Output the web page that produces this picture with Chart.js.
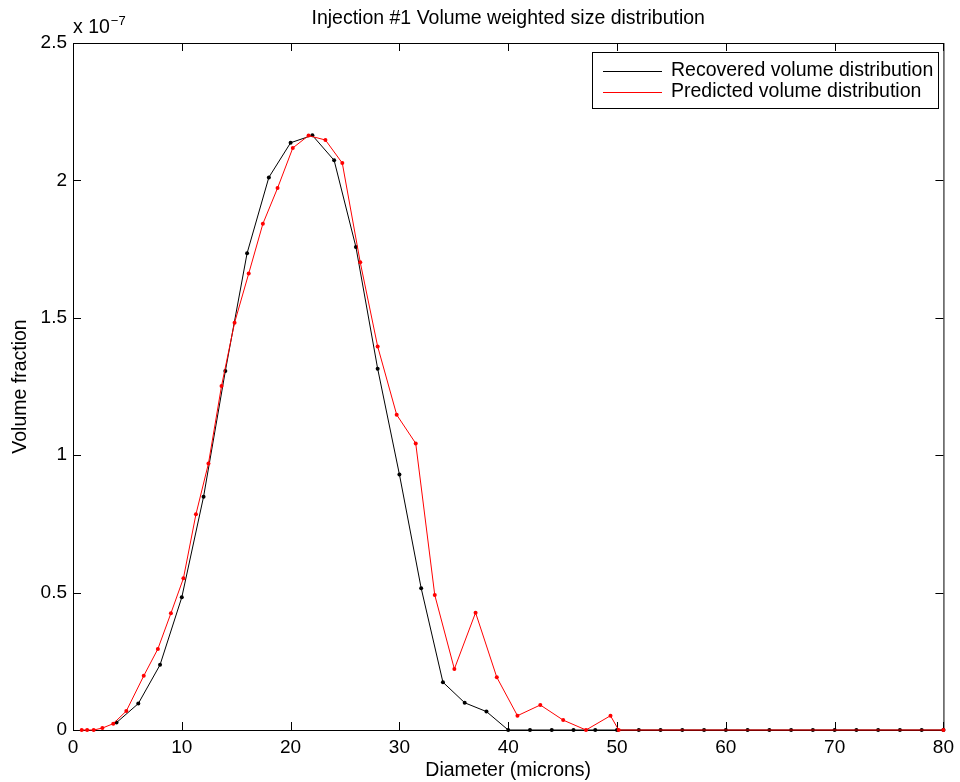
<!DOCTYPE html>
<html>
<head>
<meta charset="utf-8">
<script src="https://cdn.jsdelivr.net/npm/chart.js@4/dist/chart.umd.min.js"></script>
<style>
    html, body { margin: 0; padding: 0; background: #fff; }
    #wrap { width: 960px; height: 782px; position: relative; }
</style>
</head>
<body>
<div id="wrap"><canvas id="sizeChart"></canvas></div>
<script>
// values are in units of 1e-7 (the axis shows "x 10^-7")
const recoveredX = [4, 6, 8, 10, 12, 14, 16, 18, 20, 22, 24, 26, 28, 30, 32, 34, 36, 38, 40,
    42, 44, 46, 48, 50, 52, 54, 56, 58, 60, 62, 64, 66, 68, 70, 72, 74, 76, 78, 80];
const recoveredY = [0.027, 0.096, 0.237, 0.483, 0.849, 1.306, 1.735, 2.011, 2.137, 2.164, 2.073, 1.758, 1.315, 0.930, 0.516, 0.174, 0.099, 0.067, 0,
    0, 0, 0, 0, 0, 0, 0, 0, 0, 0, 0, 0, 0, 0, 0, 0, 0, 0, 0, 0];

const predictedX = [0.8, 1.3, 1.9, 2.7, 3.7, 4.9, 6.5, 7.8, 9.0, 10.15, 11.3, 12.45, 13.65, 14.85, 16.15, 17.45, 18.8, 20.2,
    21.65, 23.2, 24.75, 26.4, 28.0, 29.75, 31.5, 33.25, 35.05, 37.0, 38.95, 40.85, 42.95, 45.05, 47.15, 49.4, 50.15, 80];
const predictedY = [0, 0, 0, 0.007, 0.023, 0.069, 0.197, 0.295, 0.425, 0.552, 0.785, 0.970, 1.252, 1.482, 1.661, 1.842, 1.972, 2.118,
    2.163, 2.147, 2.063, 1.702, 1.396, 1.147, 1.043, 0.491, 0.222, 0.427, 0.192, 0.052, 0.091, 0.036, 0, 0.052, 0, 0];

const xTicks = [0, 10, 20, 30, 40, 50, 60, 70, 80];
const yTicks = [0, 0.5, 1, 1.5, 2, 2.5];

const seriesNames = ['Recovered volume distribution', 'Predicted volume distribution'];
const chartTitle = 'Injection #1 Volume weighted size distribution';
const xTitle = 'Diameter (microns)';
const yTitle = 'Volume fraction';

const FONT = '"Liberation Sans", Arial, Helvetica, sans-serif';

function toPoints(xs, ys) {
    return xs.map(function(x, i) { return { x: x, y: ys[i] }; });
}

// frame box + inward ticks, like matlab axes
const framePlugin = {
    id: 'frame',
    beforeDatasetsDraw: function(chart) {
        const ctx = chart.ctx;
        const a = chart.chartArea;
        const xs = chart.scales.x;
        const ys = chart.scales.y;
        const tl = 8;
        ctx.save();
        ctx.strokeStyle = '#000';
        ctx.lineWidth = 1;
        ctx.strokeRect(a.left + 0.5, a.top + 0.5, a.right - a.left, a.bottom - a.top);
        ctx.beginPath();
        xTicks.forEach(function(v) {
            const px = Math.round(xs.getPixelForValue(v)) + 0.5;
            ctx.moveTo(px, a.bottom);
            ctx.lineTo(px, a.bottom - tl);
            ctx.moveTo(px, a.top);
            ctx.lineTo(px, a.top + tl);
        });
        yTicks.forEach(function(v) {
            const py = Math.round(ys.getPixelForValue(v)) + 0.5;
            ctx.moveTo(a.left, py);
            ctx.lineTo(a.left + tl, py);
            ctx.moveTo(a.right, py);
            ctx.lineTo(a.right - tl, py);
        });
        ctx.stroke();
        ctx.restore();
    },
    afterDraw: function(chart) {
        const ctx = chart.ctx;
        const a = chart.chartArea;
        const cx = (a.left + a.right) / 2;
        const cy = (a.top + a.bottom) / 2;
        ctx.save();
        ctx.fillStyle = '#000';
        ctx.textAlign = 'center';
        ctx.textBaseline = 'middle';
        ctx.font = '19.5px ' + FONT;
        ctx.fillText(chartTitle, cx, 19);
        ctx.fillText(xTitle, cx, 771);
        ctx.save();
        ctx.translate(21, cy);
        ctx.rotate(-Math.PI / 2);
        ctx.fillText(yTitle, 0, 0);
        ctx.restore();

        // exponent label
        ctx.textAlign = 'left';
        ctx.textBaseline = 'alphabetic';
        ctx.font = '19.5px ' + FONT;
        ctx.fillText('x 10', a.left, 33);
        const w = ctx.measureText('x 10').width;
        ctx.font = '13px ' + FONT;
        ctx.fillText('\u22127', a.left + w + 1, 25);

        // legend
        const lx = 592, ly = 52, lw = 346, lh = 56;
        ctx.fillStyle = '#fff';
        ctx.fillRect(lx, ly, lw, lh);
        ctx.strokeStyle = '#000';
        ctx.lineWidth = 1;
        ctx.strokeRect(lx + 0.5, ly + 0.5, lw, lh);
        const colors = ['#000', '#ff0000'];
        const rowsY = [71, 92];
        ctx.font = '19.5px ' + FONT;
        ctx.textBaseline = 'middle';
        seriesNames.forEach(function(name, i) {
            ctx.strokeStyle = colors[i];
            ctx.beginPath();
            ctx.moveTo(603, rowsY[i] + 0.5);
            ctx.lineTo(662, rowsY[i] + 0.5);
            ctx.stroke();
            ctx.fillStyle = '#000';
            ctx.fillText(name, 671, rowsY[i]);
        });
        ctx.restore();
    }
};

new Chart(document.getElementById('sizeChart').getContext('2d'), {
    type: 'line',
    data: {
        datasets: [{
            label: seriesNames[0],
            data: toPoints(recoveredX, recoveredY),
            borderColor: '#000',
            backgroundColor: '#000',
            borderWidth: 1,
            pointRadius: 2,
            pointBorderWidth: 0,
            tension: 0,
            fill: false,
            order: 1
        }, {
            label: seriesNames[1],
            data: toPoints(predictedX, predictedY),
            borderColor: '#ff0000',
            backgroundColor: '#ff0000',
            borderWidth: 1,
            pointRadius: 2,
            pointBorderWidth: 0,
            tension: 0,
            fill: false,
            order: 0
        }]
    },
    options: {
        responsive: true,
        maintainAspectRatio: false,
        animation: false,
        clip: false,
        layout: { padding: { top: 43, right: 16, left: 0, bottom: 0 } },
        plugins: {
            legend: { display: false },
            tooltip: { enabled: false },
            title: { display: false }
        },
        scales: {
            x: {
                type: 'linear',
                min: 0,
                max: 80,
                afterFit: function(scale) { scale.height = 52; },
                afterBuildTicks: function(scale) {
                    scale.ticks = xTicks.map(function(v) { return { value: v }; });
                },
                grid: { display: false, drawTicks: false },
                border: { display: false },
                ticks: {
                    color: '#000',
                    padding: 6,
                    maxRotation: 0,
                    font: { family: FONT, size: 19 },
                    callback: function(v) { return String(v); }
                }
            },
            y: {
                type: 'linear',
                min: 0,
                max: 2.5,
                afterFit: function(scale) { scale.width = 73; },
                afterBuildTicks: function(scale) {
                    scale.ticks = yTicks.map(function(v) { return { value: v }; });
                },
                grid: { display: false, drawTicks: false },
                border: { display: false },
                ticks: {
                    color: '#000',
                    padding: 6,
                    font: { family: FONT, size: 19 },
                    callback: function(v) { return String(v); }
                }
            }
        }
    },
    plugins: [framePlugin]
});
</script>
</body>
</html>
